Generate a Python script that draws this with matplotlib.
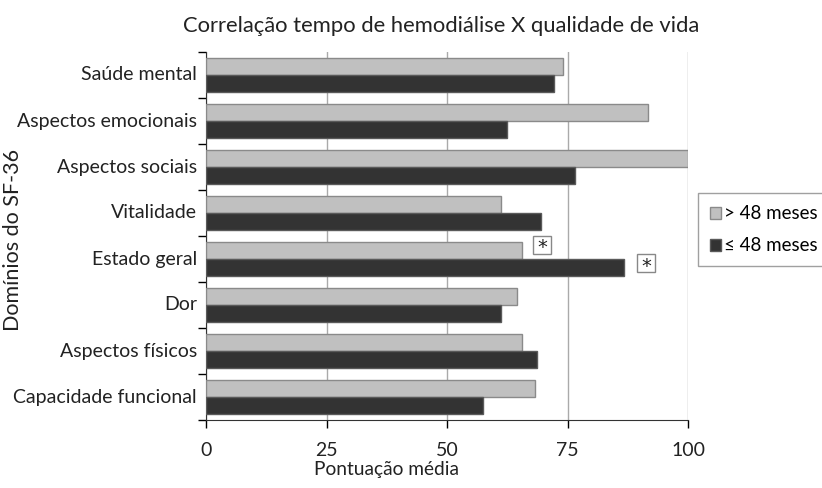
import numpy as np
import matplotlib
matplotlib.use('Agg')
import matplotlib.pyplot as plt

plt.rcParams['font.family'] = ['Lato', 'DejaVu Sans']

# dados (de baixo para cima)
dominios = ['Capacidade funcional', 'Aspectos físicos', 'Dor', 'Estado geral',
            'Vitalidade', 'Aspectos sociais', 'Aspectos emocionais', 'Saúde mental']
mais_48 = [68.3, 65.6, 64.6, 65.6, 61.3, 100.0, 91.8, 74.0]
ate_48 = [57.5, 68.7, 61.3, 86.8, 69.4, 76.6, 62.5, 72.1]
x_ticks = [0, 25, 50, 75, 100]

fig = plt.figure(figsize=(8.22, 4.88), dpi=100)
ax = fig.add_axes([206/822, 1 - 420/488, 482/822, 368/488])

y = np.arange(len(dominios))
h = 0.37
ax.barh(y + h/2, mais_48, height=h, color='#c0c0c0', edgecolor='#8a8a8a',
        linewidth=1, label='> 48 meses', zorder=3)
ax.barh(y - h/2, ate_48, height=h, color='#333333', edgecolor='#5a5a5a',
        linewidth=1, label='≤ 48 meses', zorder=3)

ax.set_xlim(0, 100)
ax.set_ylim(-0.5, len(dominios) - 0.5)
ax.set_xticks(x_ticks)
ax.set_xticklabels([str(v) for v in x_ticks], fontsize=14, color='#222222')
ax.tick_params(axis='x', length=6, width=1, pad=10)

# rótulos nos centros, ticks nas divisões
ax.set_yticks(np.arange(-0.5, len(dominios), 1.0))
ax.set_yticklabels([])
ax.tick_params(axis='y', length=6, width=1)
for i, d in enumerate(dominios):
    ax.text(-9/482, i, d, transform=ax.get_yaxis_transform(), ha='right',
            va='center', fontsize=14, color='#222222')

ax.grid(axis='x', color='#aaaaaa', linewidth=1, zorder=0)
for s in ['top', 'right']:
    ax.spines[s].set_visible(False)
ax.spines['left'].set_color('#333333')
ax.spines['bottom'].set_color('#333333')

# asteriscos de significância (caixa quadrada + texto)
idx = dominios.index('Estado geral')
ast_x = [69.7, 91.3]
ast_y = [idx + 0.315, idx - 0.09]
ax.plot(ast_x, ast_y, ls='none', marker='s', markersize=13.5,
        markerfacecolor='white', markeredgecolor='#888888',
        markeredgewidth=1, zorder=4, clip_on=False)
for xa, ya in zip(ast_x, ast_y):
    ax.text(xa, ya - 0.07, '*', ha='center', va='center', fontsize=14,
            family='DejaVu Sans', color='#222222', zorder=5)

fig.text(386/822, 1 - 469/488, 'Pontuação média', ha='center', va='center',
         fontsize=13.8, color='#222222')
fig.text(13/822, 1 - 240/488, 'Domínios do SF-36', rotation=90,
         ha='center', va='center', fontsize=15.5, color='#222222')
fig.text(441/822, 1 - 26/488, 'Correlação tempo de hemodiálise X qualidade de vida',
         ha='center', va='center', fontsize=15.8, color='#222222')

fig.legend(loc='upper left', bbox_to_anchor=(698/822, 1 - 193/488),
           fontsize=13.5, frameon=True, fancybox=False, edgecolor='#888888',
           handlelength=0.6, handleheight=0.6, handletextpad=0.15,
           borderaxespad=0, borderpad=0.65, labelspacing=0.8)

fig.savefig('out.png', dpi=100)
